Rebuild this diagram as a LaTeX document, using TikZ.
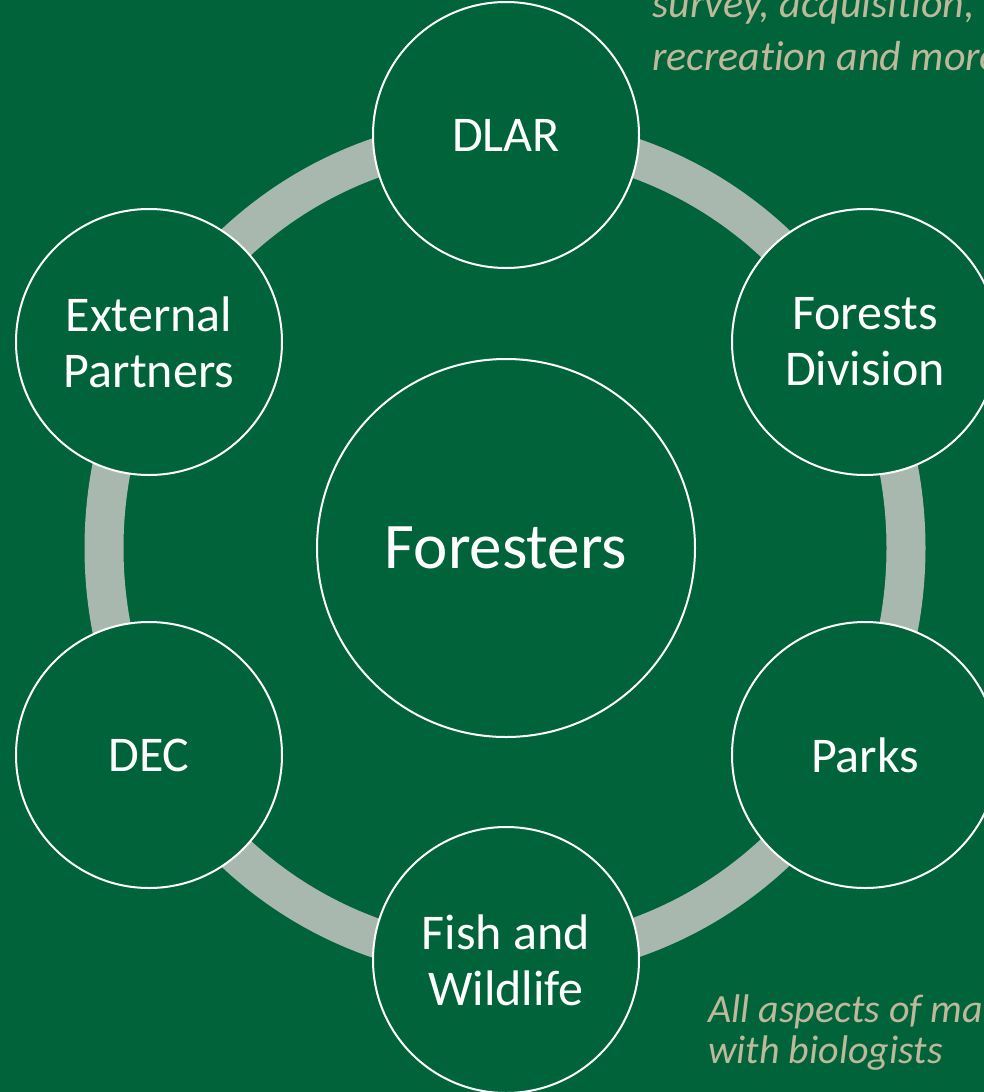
\documentclass[tikz,border=0pt]{standalone}
\usepackage{fontspec}
\setmainfont{Carlito}[Ligatures=NoCommon]
\usetikzlibrary{positioning}
\definecolor{forestgreen}{RGB}{0,99,58}
\definecolor{ringgray}{RGB}{169,184,174}
\definecolor{notetan}{RGB}{190,185,154}
\tikzset{
  unit/.style={circle,draw=white,line width=2pt,fill=forestgreen,minimum size=266pt,inner sep=0pt,text=white,align=center,font=\fontsize{50}{56}\selectfont},
  hub/.style={unit,minimum size=378pt,font=\fontsize{65}{70}\selectfont},
  note/.style={text=notetan,anchor=base west,inner sep=0pt,font=\itshape\fontsize{40}{41}\selectfont}
}
\begin{document}
\begin{tikzpicture}[x=1pt,y=-1pt]
			\useasboundingbox (0,0) rectangle (984,1092);
			\clip (0,0) rectangle (984,1092);
			\fill[forestgreen] (0,0) rectangle (984,1092);
			% ring behind the circles
			\draw[ringgray,line width=39pt] (505,548) ellipse [x radius=401, y radius=412];
			\node[hub] (foresters) at (506,548) {Foresters};
			\node[unit] (dlar) at (506,135) {DLAR};
			\node[unit] (forests) at (865,342) {Forests\\Division};
			\node[unit] (parks) at (865,755) {Parks};
			\node[unit] (fish) at (506,960) {Fish and\\Wildlife};
			\node[unit] (dec) at (149,755) {DEC};
			\node[unit] (partners) at (149,342) {External\\Partners};
			% side notes, cut by the page edge
			\node[note,font=\itshape\fontsize{42}{42}\selectfont] (survey) at (652,17) {survey, acquisition,};
			\node[note,font=\itshape\fontsize{42}{42}\selectfont] (recreation) at (652,70) {recreation and more};
			\node[note] (aspects) at (708,1022) {All aspects of ma};
			\node[note] (biologists) at (708,1063) {with biologists};
\end{tikzpicture}
\end{document}
